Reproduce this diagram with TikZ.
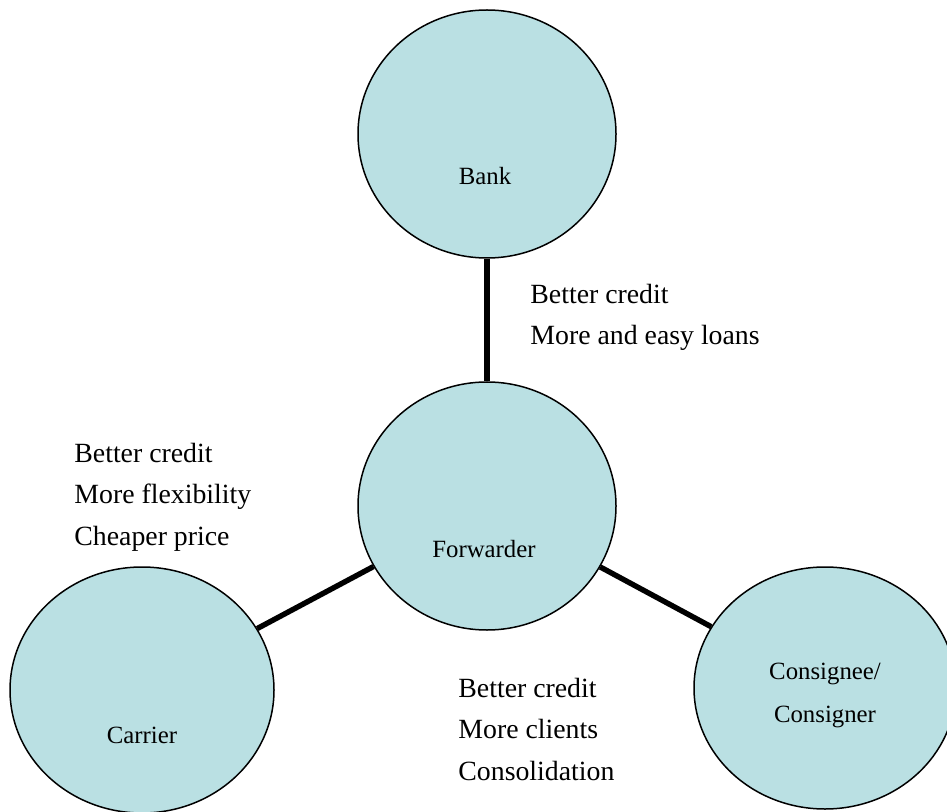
\documentclass[tikz,border=0pt]{standalone}
\usepackage{fontspec}
\setmainfont{Liberation Serif}
\usetikzlibrary{shapes.geometric}
\definecolor{party_blue}{RGB}{186,224,227}

\begin{document}
\begin{tikzpicture}[x=0.5pt, y=-0.5pt,
    party/.style={ellipse, draw=black, line width=0.75pt, fill=party_blue, inner sep=0pt},
    partyname/.style={anchor=base, align=center, inner sep=0pt, font=\fontsize{12.4}{21.5}\selectfont},
    link/.style={line width=2.7pt, draw=black},
    gain/.style={anchor=base west, align=left, inner sep=0pt, font=\fontsize{13.9}{20.7}\selectfont}]
  \useasboundingbox (0,0) rectangle (947,812);
  % The four parties
  \node[party, minimum width=129pt, minimum height=124pt] (bank) at (487,134) {};
  \node[party, minimum width=129pt, minimum height=124pt] (fwd) at (487,506) {};
  \node[party, minimum width=132pt, minimum height=123pt] (carrier) at (142,690) {};
  \node[party, minimum width=131pt, minimum height=121pt] (consignee) at (825,688) {};
  % Links to the forwarder
  \draw[link] (bank) -- (fwd);
  \draw[link] (carrier) -- (fwd);
  \draw[link] (fwd) -- (consignee);
  % Names (base = last line)
  \node[partyname] (banklbl) at (485,185) {Bank};
  \node[partyname] (fwdlbl) at (484,557) {Forwarder};
  \node[partyname] (carrierlbl) at (142,743) {Carrier};
  \node[partyname] (consigneelbl) at (825,722) {Consignee/\\Consigner};
  % What each side gains
  \node[gain] (bankgain) at (530,345) {Better credit\\More and easy loans};
  \node[gain] (carriergain) at (74,545) {Better credit\\More flexibility\\Cheaper price};
  \node[gain] (clientgain) at (458,780) {Better credit\\More clients\\Consolidation};
\end{tikzpicture}
\end{document}
